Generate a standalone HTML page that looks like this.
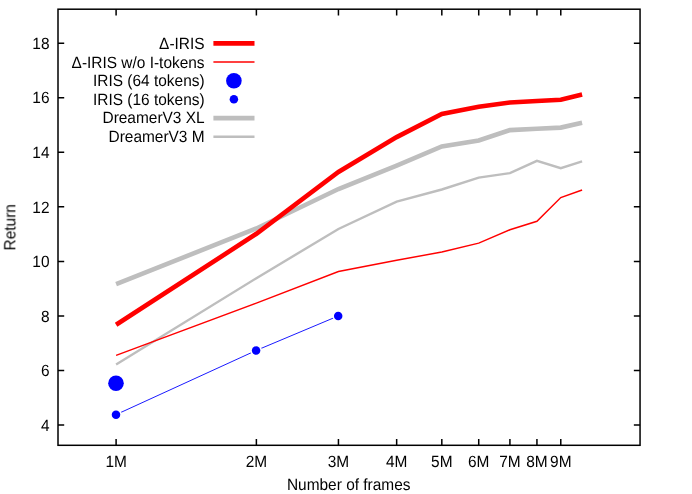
<!DOCTYPE html>
<html><head><meta charset="utf-8"><title>chart</title>
<style>
html,body{margin:0;padding:0;background:#fff;}
body{width:692px;height:494px;overflow:hidden;}
svg{display:block;}
text{text-rendering:geometricPrecision;font-family:"Liberation Sans",sans-serif;font-size:15.45px;fill:#000;}
</style></head><body>
<svg width="692" height="494" viewBox="0 0 692 494">
<rect width="692" height="494" fill="#fff"/>
<polyline points="116.10,284.10 256.38,228.50 338.44,189.00 396.66,165.70 441.82,146.50 478.72,140.50 509.92,130.10 536.94,128.80 560.78,127.60 582.10,122.80" fill="none" stroke="#bebebe" stroke-width="4.6" stroke-linejoin="miter"/>
<polyline points="116.10,364.60 256.38,278.20 338.44,229.00 396.66,201.60 441.82,189.50 478.72,177.55 509.92,173.10 536.94,160.90 560.78,168.20 582.10,161.40" fill="none" stroke="#bebebe" stroke-width="2.4" stroke-linejoin="miter"/>
<polyline points="116.10,324.80 256.38,233.80 338.44,172.00 396.66,137.10 441.82,114.00 478.72,106.80 509.92,102.50 536.94,101.00 560.78,99.80 582.10,94.60" fill="none" stroke="#ff0000" stroke-width="4.6" stroke-linejoin="miter"/>
<polyline points="116.10,355.40 256.38,303.10 338.44,271.50 396.66,260.30 441.82,252.00 478.72,243.10 509.92,229.80 536.94,221.30 560.78,197.60 582.10,190.00" fill="none" stroke="#ff0000" stroke-width="1.45" stroke-linejoin="miter"/>
<polyline points="116.0,414.65 256.1,350.5 338.2,316.0" fill="none" stroke="#0000ff" stroke-width="0.9"/>
<circle cx="116.0" cy="414.65" r="5.8" fill="#fff"/><circle cx="116.0" cy="414.65" r="4.25" fill="#0000ff"/>
<circle cx="256.1" cy="350.5" r="5.8" fill="#fff"/><circle cx="256.1" cy="350.5" r="4.25" fill="#0000ff"/>
<circle cx="338.2" cy="316.0" r="5.8" fill="#fff"/><circle cx="338.2" cy="316.0" r="4.25" fill="#0000ff"/>
<circle cx="116.0" cy="383.25" r="7.8" fill="#0000ff"/>
<g stroke="#000" stroke-width="1.5" fill="none" stroke-linecap="butt">
<rect x="58.0" y="9.2" width="582.05" height="436.1" stroke-linejoin="miter"/>
<path d="M58.0,425.10h6.2M640.05,425.10h-6.2"/>
<path d="M58.0,370.54h6.2M640.05,370.54h-6.2"/>
<path d="M58.0,315.98h6.2M640.05,315.98h-6.2"/>
<path d="M58.0,261.42h6.2M640.05,261.42h-6.2"/>
<path d="M58.0,206.86h6.2M640.05,206.86h-6.2"/>
<path d="M58.0,152.30h6.2M640.05,152.30h-6.2"/>
<path d="M58.0,97.74h6.2M640.05,97.74h-6.2"/>
<path d="M58.0,43.18h6.2M640.05,43.18h-6.2"/>
<path d="M116.10,445.3v-6.2M116.10,9.2v6.2"/>
<path d="M256.38,445.3v-6.2M256.38,9.2v6.2"/>
<path d="M338.44,445.3v-6.2M338.44,9.2v6.2"/>
<path d="M396.66,445.3v-6.2M396.66,9.2v6.2"/>
<path d="M441.82,445.3v-6.2M441.82,9.2v6.2"/>
<path d="M478.72,445.3v-6.2M478.72,9.2v6.2"/>
<path d="M509.92,445.3v-6.2M509.92,9.2v6.2"/>
<path d="M536.94,445.3v-6.2M536.94,9.2v6.2"/>
<path d="M560.78,445.3v-6.2M560.78,9.2v6.2"/>
</g>
<g opacity="0.999">
<text transform="translate(49.5,430.75) scale(1,1.055)" text-anchor="end">4</text>
<text transform="translate(49.5,376.19) scale(1,1.055)" text-anchor="end">6</text>
<text transform="translate(49.5,321.63) scale(1,1.055)" text-anchor="end">8</text>
<text transform="translate(49.5,267.07) scale(1,1.055)" text-anchor="end">10</text>
<text transform="translate(49.5,212.51) scale(1,1.055)" text-anchor="end">12</text>
<text transform="translate(49.5,157.95) scale(1,1.055)" text-anchor="end">14</text>
<text transform="translate(49.5,103.39) scale(1,1.055)" text-anchor="end">16</text>
<text transform="translate(49.5,48.83) scale(1,1.055)" text-anchor="end">18</text>
<text transform="translate(116.10,466.5) scale(1,1.055)" text-anchor="middle">1M</text>
<text transform="translate(256.38,466.5) scale(1,1.055)" text-anchor="middle">2M</text>
<text transform="translate(338.44,466.5) scale(1,1.055)" text-anchor="middle">3M</text>
<text transform="translate(396.66,466.5) scale(1,1.055)" text-anchor="middle">4M</text>
<text transform="translate(441.82,466.5) scale(1,1.055)" text-anchor="middle">5M</text>
<text transform="translate(478.72,466.5) scale(1,1.055)" text-anchor="middle">6M</text>
<text transform="translate(509.92,466.5) scale(1,1.055)" text-anchor="middle">7M</text>
<text transform="translate(536.94,466.5) scale(1,1.055)" text-anchor="middle">8M</text>
<text transform="translate(560.78,466.5) scale(1,1.055)" text-anchor="middle">9M</text>
<text transform="translate(348.7,489.7) scale(1,1.055)" text-anchor="middle">Number of frames</text>
<text transform="translate(15.1,227.3) rotate(-90) scale(1,1.055)" text-anchor="middle">Return</text>
<text transform="translate(204.6,48.70) scale(1,1.055)" text-anchor="end">Δ-IRIS</text>
<text transform="translate(204.6,67.50) scale(1,1.055)" text-anchor="end">Δ-IRIS w/o I-tokens</text>
<text transform="translate(204.6,86.00) scale(1,1.055)" text-anchor="end">IRIS (64 tokens)</text>
<text transform="translate(204.6,104.70) scale(1,1.055)" text-anchor="end">IRIS (16 tokens)</text>
<text transform="translate(204.6,123.40) scale(1,1.055)" text-anchor="end">DreamerV3 XL</text>
<text transform="translate(204.6,142.00) scale(1,1.055)" text-anchor="end">DreamerV3 M</text>
</g>
<path d="M213.4,43.4H254.5" stroke="#ff0000" stroke-width="4.6"/>
<path d="M213.4,62.0H254.5" stroke="#ff0000" stroke-width="1.45"/>
<circle cx="233.9" cy="80.7" r="7.8" fill="#0000ff"/>
<circle cx="233.9" cy="99.2" r="4.25" fill="#0000ff"/>
<path d="M213.4,118.1H254.5" stroke="#bebebe" stroke-width="4.6"/>
<path d="M213.4,136.7H254.5" stroke="#bebebe" stroke-width="2.4"/>
</svg></body></html>
